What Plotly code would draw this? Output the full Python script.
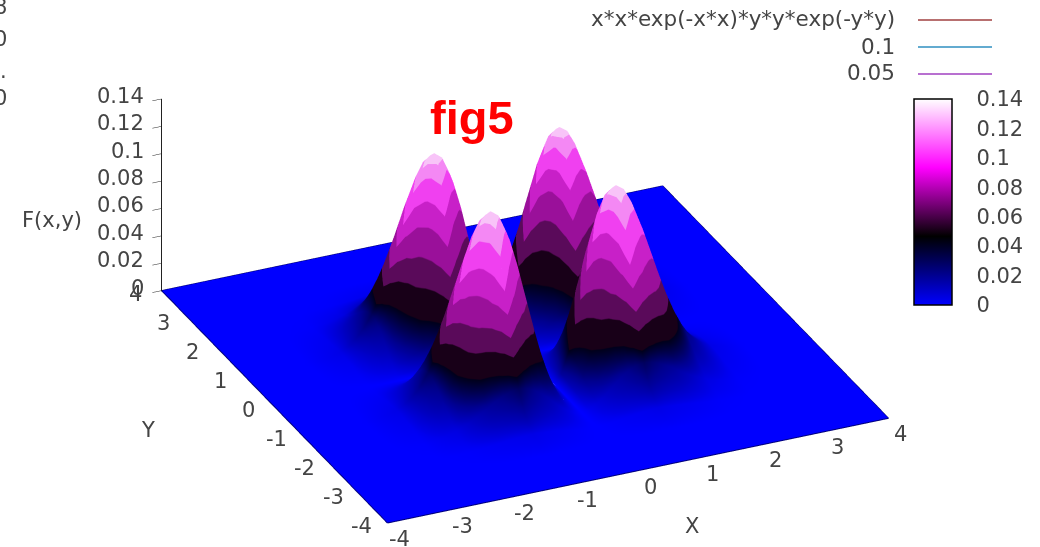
import numpy as np
import plotly.graph_objects as go

# Half profile, from the centre outward; surface peak about 0.135 at |x|=|y|=1
half_grid = [0, 0.125, 0.25, 0.375, 0.5, 0.625, 0.75, 0.875, 1, 1.125, 1.25, 1.375, 1.5, 1.625, 1.75, 1.875, 2,
             2.125, 2.25, 2.375, 2.5, 2.625, 2.75, 2.875, 3, 3.125, 3.25, 3.375, 3.5, 3.625, 3.75, 3.875, 4]
half_profile = [0.00001, 0.0154, 0.0587, 0.1222, 0.1947, 0.2643, 0.3205, 0.356, 0.3679, 0.3569, 0.3275, 0.2855, 0.2371,
                0.1883, 0.1432, 0.1045, 0.0733, 0.0494, 0.032, 0.02, 0.0121, 0.007, 0.004, 0.0021, 0.0011, 0.0006,
                0.0003, 0.00013, 0.00006, 0.00003, 0.00001, 0.00001, 0.00001]
z_ticks = [0, 0.02, 0.04, 0.06, 0.08, 0.1, 0.12, 0.14]
z_labels = ["0", "0.02", "0.04", "0.06", "0.08", "0.1", "0.12", "0.14"]
xy_ticks = [-4, -3, -2, -1, 0, 1, 2, 3, 4]
legend_names = ["x*x*exp(-x*x)*y*y*exp(-y*y)", "0.1", "0.05"]
legend_colors = ["#a04040", "#2f8fc0", "#a040c0"]
cut_marks = ["8", "0", ".", "0"]
band_edges = [0.036, 0.05, 0.062, 0.075, 0.088, 0.103, 0.118, 0.14]
band_colors = ["#180018", "#5a0a5a", "#9a109a", "#c820c8", "#f040f0", "#f488f4", "#f8c4f8"]

h = np.array(half_grid)
g = np.concatenate([-h[:0:-1], h])
p = np.concatenate([np.array(half_profile)[:0:-1], half_profile])
Z = np.outer(p, p)
# colour follows the coarser 0.5-step sampling of the same profile, which scallops the colour bands
pc = np.interp(g, g[::4], p[::4])
C = np.outer(pc, pc)

palette = [[0, "#0000ff"], [1 / 3, "#000000"], [2 / 3, "#ff00ff"], [1, "#ffffff"]]
stepped = [[0, "#0000ff"], [0.02 / 0.14, "#000090"], [band_edges[0] / 0.14, "#000018"]]
for c, lo, hi in zip(band_colors, band_edges[:-1], band_edges[1:]):
    stepped += [[lo / 0.14, c], [hi / 0.14, c]]

TXT = "#444444"
FONT = "DejaVu Sans"
F = dict(family=FONT, size=21, color=TXT)

off = dict(show=False, highlight=False)
fig = go.Figure(go.Surface(
    x=g, y=g, z=Z, surfacecolor=C, cmin=0, cmax=0.14, colorscale=stepped, showscale=False,
    lighting=dict(ambient=1, diffuse=0, specular=0, fresnel=0, roughness=1),
    hoverinfo="skip", contours=dict(x=off, y=off, z=off),
))
fig.add_trace(go.Scatter3d(
    x=[0], y=[0], z=[0], mode="markers", hoverinfo="skip",
    marker=dict(size=1, opacity=0, color=[0], cmin=0, cmax=0.14, colorscale=palette, showscale=True,
                colorbar=dict(thickness=38, thicknessmode="pixels", len=206, lenmode="pixels", xpad=0, ypad=0,
                              x=914 / 1040, xanchor="left", y=1 - 305 / 547, yanchor="bottom",
                              outlinecolor="#000000", outlinewidth=1.5, tickvals=z_ticks, ticktext=z_labels,
                              ticks="outside", ticklen=20, tickcolor="rgba(0,0,0,0)", tickfont=F)),
))
# darker rim along the edge of the surface
lo_edge, hi_edge = g[0], g[-1]
fig.add_trace(go.Scatter3d(
    x=[lo_edge, hi_edge, hi_edge, lo_edge, lo_edge], y=[lo_edge, lo_edge, hi_edge, hi_edge, lo_edge], z=[0] * 5,
    mode="lines", line=dict(color="#00007a", width=2), hoverinfo="skip", showlegend=False,
))

annotations = [dict(text="fig5", x=472 / 1040, y=1 - 118 / 547, xref="paper", yref="paper", showarrow=False,
                    yanchor="middle", font=dict(family="Liberation Sans", size=47, color="#ff0000", weight="bold"))]
shapes = []
for name, col, yy in zip(legend_names, legend_colors, [20, 47, 74]):
    annotations.append(dict(text=name, x=897 / 1040, y=1 - (yy - 1) / 547, xref="paper", yref="paper",
                            xanchor="right", yanchor="middle", showarrow=False,
                            font=dict(family=FONT, size=21.5, color=TXT)))
    shapes.append(dict(type="line", xref="paper", yref="paper", x0=918 / 1040, x1=992 / 1040,
                       y0=1 - yy / 547, y1=1 - yy / 547, line=dict(color=col, width=1.3)))
for mark, yy in zip(cut_marks, [7, 39, 71, 98]):
    annotations.append(dict(text=mark, x=9 / 1040, y=1 - yy / 547, xref="paper", yref="paper", xanchor="right",
                            yanchor="middle", showarrow=False, font=F))
for v in z_ticks[1:-1]:
    yp = 305 - 206 * v / 0.14
    for x0, x1 in ((915, 921), (945, 951)):
        shapes.append(dict(type="line", xref="paper", yref="paper", x0=x0 / 1040, x1=x1 / 1040,
                           y0=1 - yp / 547, y1=1 - yp / 547, line=dict(color="#222222", width=1)))

scene_notes = []
for v in xy_ticks:
    scene_notes.append(dict(x=v, y=-4, z=0, text=str(v), showarrow=False, xshift=12, yshift=-16, font=F))
    scene_notes.append(dict(x=-4, y=v, z=0, text=str(v), showarrow=False, xshift=-26, yshift=-3, font=F))
for v, lab in zip(z_ticks, z_labels):
    scene_notes.append(dict(x=-4, y=4, z=v, text=lab, showarrow=False, xanchor="right", xshift=-16, yshift=3, font=F))
scene_notes.append(dict(x=0, y=-4, z=0, text="X", showarrow=False, xshift=54, yshift=-55, font=F))
scene_notes.append(dict(x=-4, y=0, z=0, text="Y", showarrow=False, xshift=-126, yshift=-23, font=F))
scene_notes.append(dict(x=-4, y=4, z=0.07, text="F(x,y)", showarrow=False, xshift=-110, yshift=-25, font=F))

common = dict(showgrid=False, zeroline=False, showbackground=False, showspikes=False, showticklabels=False, title=dict(text=""))
k = 5.0
A = 2.01
fig.update_layout(
    width=1040, height=547, margin=dict(l=0, r=0, t=0, b=0), paper_bgcolor="white",
    annotations=annotations, shapes=shapes, showlegend=False,
    scene=dict(
        domain=dict(x=[0, 1], y=[0, 1]),
        aspectmode="manual", aspectratio=dict(x=A, y=A, z=0.395 * A),
        camera=dict(projection=dict(type="orthographic"), up=dict(x=0, y=0, z=1),
                    center=dict(x=-0.017, y=0.0076, z=-0.06), eye=dict(x=-0.37 * k, y=-0.812 * k, z=0.455 * k)),
        annotations=scene_notes,
        xaxis=dict(common, range=[-4, 4], tickvals=xy_ticks, showline=False, ticks=""),
        yaxis=dict(common, range=[-4, 4], tickvals=xy_ticks, showline=False, ticks=""),
        zaxis=dict(common, range=[-0.0005, 0.14], tickvals=z_ticks,
                   showline=True, linecolor="#222222", linewidth=2, ticks="inside", ticklen=8, tickcolor="#222222"),
    ),
)
fig.write_html("out.html", post_script="document.body.style.margin='0';", config=dict(displayModeBar=False))
